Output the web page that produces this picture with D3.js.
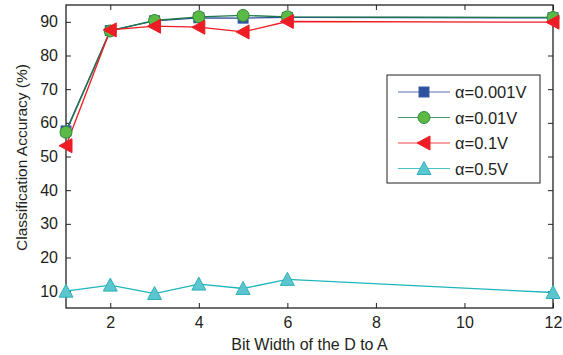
<!DOCTYPE html>
<html>
<head>
<meta charset="utf-8">
<script src="https://cdn.jsdelivr.net/npm/d3@7"></script>
<style>
  body { margin: 0; background: #fff; }
  text { font-family: "Liberation Sans", Arial, sans-serif; fill: #231f20; }
</style>
</head>
<body>
<svg id="graph" width="563" height="355"></svg>
<script>
// data
var bits = [1, 2, 3, 4, 5, 6, 12];
var acc001 = [57.6, 87.4, 90.3, 91.2, 91.1, 91.3, 91.2];
var acc01 = [57.2, 87.3, 90.4, 91.5, 91.9, 91.5, 91.3];
var acc1 = [53.2, 87.6, 88.7, 88.4, 87.0, 90.1, 89.9];
var acc5 = [10.0, 11.8, 9.3, 12.1, 10.8, 13.5, 9.6];
var labels = ["\u03b1=0.001V", "\u03b1=0.01V", "\u03b1=0.1V", "\u03b1=0.5V"];
var xTicks = [2, 4, 6, 8, 10, 12];
var yTicks = [10, 20, 30, 40, 50, 60, 70, 80, 90];

var svg = d3.select('#graph'),
    margin = {top: 5, right: 10, bottom: 47, left: 66},
    width = +svg.attr("width") - margin.left - margin.right,
    height = +svg.attr("height") - margin.top - margin.bottom,
    g = svg.append("g").attr("transform", "translate(" + margin.left + "," + margin.top + ")");

var x = d3.scaleLinear().domain([1, 12]).range([0, width]);
var y = d3.scaleLinear().domain([5, 95]).range([height, 0]);

var series = [
  {vals: acc001, line: "#2d4f9e", fill: "#2f4f9f", stroke: "#3a5ca8", shape: "square"},
  {vals: acc01, line: "#1e7a48", fill: "#5cb946", stroke: "#2f8a3a", shape: "circle"},
  {vals: acc1, line: "#ee1c24", fill: "#ee1c24", stroke: "#ee1c24", shape: "left"},
  {vals: acc5, line: "#1fb5bd", fill: "#5cc6cf", stroke: "#2fb0ba", shape: "up"}
];

function marker(sel, s) {
  if (s.shape == "square") {
    sel.append("rect").attr("x", -5).attr("y", -5).attr("width", 10).attr("height", 10);
  } else if (s.shape == "circle") {
    sel.append("circle").attr("r", 6);
  } else if (s.shape == "left") {
    sel.append("path").attr("d", "M-7,0L6,-7L6,7Z");
  } else {
    sel.append("path").attr("d", "M0,-7L7,6L-7,6Z");
  }
  sel.selectAll("*").attr("fill", s.fill).attr("stroke", s.stroke).attr("stroke-width", 1);
}

// axes, ticks pointing inward on all sides
var tk = function(a) { a.select(".domain").remove(); a.selectAll("line").attr("stroke", "#231f20"); };
g.append("g").attr("transform", "translate(0," + height + ")")
  .call(d3.axisBottom(x).tickValues(xTicks).tickSizeInner(-5).tickSizeOuter(0).tickPadding(9))
  .call(tk).selectAll("text").attr("font-size", 16);
g.append("g")
  .call(d3.axisTop(x).tickValues(xTicks).tickSizeInner(-5).tickSizeOuter(0).tickFormat(""))
  .call(tk);
g.append("g")
  .call(d3.axisLeft(y).tickValues(yTicks).tickSizeInner(-5).tickSizeOuter(0).tickPadding(8))
  .call(tk).selectAll("text").attr("font-size", 16);
g.append("g").attr("transform", "translate(" + width + ",0)")
  .call(d3.axisRight(y).tickValues(yTicks).tickSizeInner(-5).tickSizeOuter(0).tickFormat(""))
  .call(tk);

g.append("rect").attr("width", width).attr("height", height)
  .attr("fill", "none").attr("stroke", "#231f20").attr("stroke-width", 1.3);

var line = d3.line()
  .x(function(d, i) { return x(bits[i]); })
  .y(function(d) { return y(d); });

series.forEach(function(s) {
  g.append("path").datum(s.vals)
    .attr("fill", "none").attr("stroke", s.line).attr("stroke-width", 1.3)
    .attr("d", line);
});
series.forEach(function(s) {
  s.vals.forEach(function(v, i) {
    var m = g.append("g").attr("transform", "translate(" + x(bits[i]) + "," + y(v) + ")");
    marker(m, s);
  });
});

// legend
var lg = svg.append("g").attr("transform", "translate(387,75)");
lg.append("rect").attr("width", 153).attr("height", 108)
  .attr("fill", "#fff").attr("stroke", "#231f20").attr("stroke-width", 1);
series.forEach(function(s, i) {
  var row = lg.append("g").attr("transform", "translate(0," + (17 + i * 25.5) + ")");
  row.append("line").attr("x1", 11).attr("x2", 63)
    .attr("stroke", s.line).attr("stroke-width", 1.2).attr("opacity", 0.8);
  var m = row.append("g").attr("transform", "translate(37,0)");
  marker(m, s);
  row.append("text").attr("x", 68).attr("y", 6).attr("font-size", 16.5).text(labels[i]);
});

// axis titles
svg.append("text")
  .attr("x", margin.left + width / 2).attr("y", 350)
  .attr("text-anchor", "middle").attr("font-size", 16)
  .text("Bit Width of the D to A");
svg.append("text")
  .attr("transform", "translate(27," + (margin.top + height / 2 + 1) + ") rotate(-90)")
  .attr("text-anchor", "middle").attr("font-size", 15.5)
  .text("Classification Accuracy (%)");
</script>
</body>
</html>
